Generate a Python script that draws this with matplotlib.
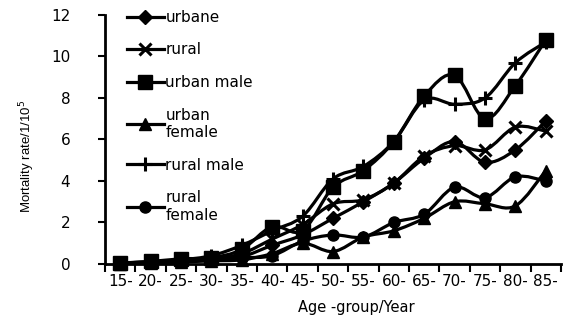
import numpy as np
import matplotlib
matplotlib.use('Agg')
import matplotlib.pyplot as plt
from matplotlib.path import Path
from matplotlib.patches import PathPatch
from matplotlib.lines import Line2D

# age groups and mortality rates per 1/10^5
ages = ['15-', '20-', '25-', '30-', '35-', '40-', '45-', '50-', '55-', '60-',
        '65-', '70-', '75-', '80-', '85-']
urbane = [0.05, 0.08, 0.15, 0.2, 0.35, 0.9, 1.4, 2.2, 3.0, 3.9, 5.1, 5.9, 4.9, 5.5, 6.9]
rural = [0.05, 0.1, 0.15, 0.25, 0.5, 1.2, 1.9, 2.9, 3.1, 3.9, 5.2, 5.7, 5.5, 6.6, 6.4]
urban_male = [0.05, 0.12, 0.25, 0.3, 0.7, 1.8, 1.6, 3.7, 4.5, 5.9, 8.1, 9.1, 7.0, 8.6, 10.8]
urban_female = [0.02, 0.05, 0.1, 0.15, 0.2, 0.5, 1.0, 0.6, 1.3, 1.6, 2.2, 3.0, 2.9, 2.8, 4.5]
rural_male = [0.05, 0.1, 0.2, 0.4, 0.9, 1.6, 2.3, 4.1, 4.7, 5.9, 7.9, 7.7, 8.0, 9.7, 10.7]
rural_female = [0.02, 0.05, 0.1, 0.2, 0.3, 0.4, 1.1, 1.4, 1.3, 2.0, 2.4, 3.7, 3.2, 4.2, 4.0]

series = [
    ('urbane', urbane, 'D', 7),
    ('rural', rural, 'x', 9),
    ('urban male', urban_male, 's', 10),
    ('urban\nfemale', urban_female, '^', 8),
    ('rural male', rural_male, '+', 10),
    ('rural\nfemale', rural_female, 'o', 8),
]


def smooth_path(x, y, t=0.5):
    # excel-like smoothed line, cubic bezier segments through the data points
    pts = np.column_stack([x, y]).astype(float)
    verts = [pts[0]]
    codes = [Path.MOVETO]
    n = len(pts)
    for i in range(n - 1):
        p0 = pts[i - 1] if i > 0 else pts[i]
        p1, p2 = pts[i], pts[i + 1]
        p3 = pts[i + 2] if i + 2 < n else pts[i + 1]
        c1 = p1 + (p2 - p0) * t / 3
        c2 = p2 - (p3 - p1) * t / 3
        verts += [c1, c2, p2]
        codes += [Path.CURVE4] * 3
    return Path(verts, codes)


fig = plt.figure(figsize=(5.63, 3.16), dpi=100)
ax = fig.add_axes([0.1865, 0.1646, 0.81, 0.788])

x = np.arange(len(ages))
for name, vals, mk, ms in series:
    ax.add_patch(PathPatch(smooth_path(x, vals), fill=False, lw=2.3,
                           color='black', clip_on=False, capstyle='round'))
    ax.plot(x, vals, ls='none', marker=mk, ms=ms, color='black',
            mew=2.2 if mk in 'x+' else 1, clip_on=False, label=name)

ax.set_xlim(-0.5, len(ages) - 0.5)
ax.set_ylim(0, 12)
ax.set_yticks(range(0, 13, 2))
ax.set_xticks(np.arange(-0.5, len(ages), 1))
ax.set_xticklabels([])
ax.set_xticks(x, minor=True)
ax.set_xticklabels(ages, minor=True, fontsize=11)
ax.tick_params(axis='x', which='minor', length=0, pad=7)
ax.tick_params(axis='x', which='major', length=6, width=1.5, direction='out')
ax.tick_params(axis='y', length=5, width=1.5, labelsize=11, pad=20)

for s in ['top', 'right']:
    ax.spines[s].set_visible(False)
for s in ['left', 'bottom']:
    ax.spines[s].set_linewidth(2)

ax.set_xlabel('Age -group/Year', fontsize=10.5)
ax.xaxis.set_label_coords(0.55, -0.145)
ax.set_ylabel('Mortality rate/1/10$^{5}$', fontsize=9.5,
              family=['Liberation Sans', 'DejaVu Sans'])
ax.yaxis.set_label_coords(-0.15, 0.43)

# legend handles: line + marker
handles = [Line2D([], [], color='black', lw=2.3, marker=mk, ms=ms,
                  mew=2.2 if mk in 'x+' else 1) for _, _, mk, ms in series]
leg = ax.legend(handles, [s[0] for s in series], loc='upper left',
                bbox_to_anchor=(0.035, 1.045), frameon=False, fontsize=11,
                handlelength=2.4, handletextpad=0.1, labelspacing=1.15,
                borderaxespad=0)

fig.savefig('out.png', dpi=100)
